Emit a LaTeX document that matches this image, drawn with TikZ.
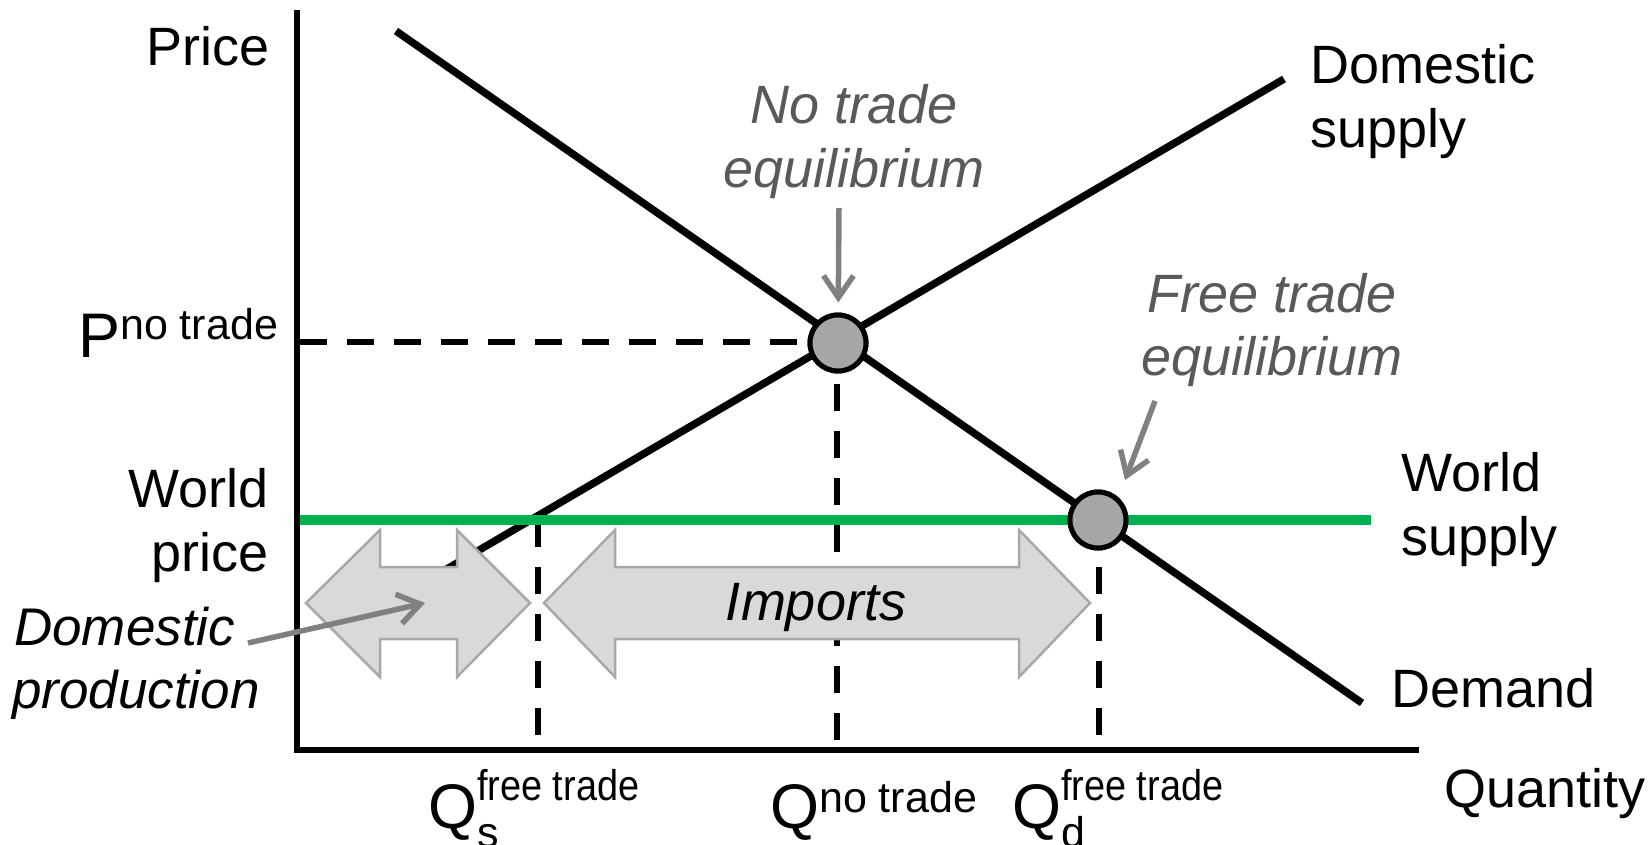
\documentclass[tikz,border=0pt]{standalone}
\usepackage{fontspec}
\setmainfont{Liberation Sans}
\usetikzlibrary{arrows.meta}
\definecolor{worldgreen}{HTML}{00B050}
\definecolor{eqfill}{HTML}{A6A6A6}
\definecolor{bandfill}{HTML}{D9D9D9}
\definecolor{bandedge}{HTML}{A8A8A8}
\definecolor{pointergray}{HTML}{808080}
\definecolor{notegray}{HTML}{595959}
\newcommand\fsz[1]{\fontsize{#1}{#1}\selectfont}
\newcommand\narrowsup[1]{\scalebox{0.88}[1]{\fsz{43}#1}}
\begin{document}
\begin{tikzpicture}[x=1pt,y=-1pt,
  axisline/.style={line width=6pt, line join=miter},
  curveline/.style={line width=7.5pt},
  guide/.style={line width=5.5pt, dash pattern=on 27pt off 20pt},
  worldline/.style={draw=worldgreen, line width=10pt},
  eqdot/.style={circle, draw=black, fill=eqfill, line width=5pt, minimum size=56pt, inner sep=0pt},
  band/.style={fill=bandfill, draw=bandedge, line width=2.5pt, line join=miter},
  pointer/.style={draw=pointergray, line width=5.5pt, -{Straight Barb[length=22pt,width=30pt]}},
  lbl/.style={inner sep=0pt, font=\fsz{54}},
  note/.style={inner sep=0pt, text=notegray, font={\fsz{54}\itshape}},
  ]
\useasboundingbox (0,0) rectangle (1649,844);

% axes
\coordinate (origin) at (297,750);
\coordinate (ytop) at (297,10);
\coordinate (xend) at (1419,750);
\draw[axisline] (ytop) -- (origin) -- (xend);

% equilibrium points
\node[eqdot] (nteq) at (838,343) {};
\node[eqdot] (fteq) at (1098,520) {};

% guide lines
\coordinate (pnt) at (300,342);
\draw[guide] (pnt) -- (pnt -| nteq.west);
\coordinate (qntfoot) at (837,740);
\draw[guide] (qntfoot) -- (qntfoot |- nteq.south);
\coordinate (qsfoot) at (538,735);
\coordinate (qstop) at (538,520);
\draw[guide] (qsfoot) -- (qstop);
\coordinate (qdfoot) at (1099,735);
\coordinate (qdtop) at (1099,566);
\draw[guide] (qdfoot) -- (qdtop);

% demand and domestic supply
\coordinate (dtop) at (396,31);
\coordinate (dbot) at (1362,703);
\coordinate (sbot) at (440,573);
\coordinate (stop) at (1284,79);
\draw[curveline] (dtop) -- (dbot);
\draw[curveline] (sbot) -- (stop);

% world supply
\coordinate (wleft) at (300,520);
\coordinate (wright) at (1371,520);
\draw[worldline] (wleft) -- (wright);

% redraw the dots on top of the lines
\node[eqdot] at (nteq) {};
\node[eqdot] at (fteq) {};

% quantity bands
\draw[band] (306,603) -- (380,530) -- (380,567) -- (457,567) -- (457,530) -- (530,603)
  -- (457,677) -- (457,639) -- (380,639) -- (380,677) -- cycle;
\draw[band] (544,603) -- (615,530) -- (615,567) -- (1019,567) -- (1019,530) -- (1090,603)
  -- (1019,677) -- (1019,639) -- (615,639) -- (615,677) -- cycle;
\node[inner sep=0pt, font={\fsz{54}\itshape}, anchor=base] (imports) at (816,620) {Imports};

% axis labels
\node[lbl, anchor=base east] (price) at (270,65) {Price};
\node[lbl, anchor=base west] (quantity) at (1444,807) {Quantity};
\node[lbl, anchor=base west] (pnotrade) at (78,357) {\fsz{63}P\raisebox{18pt}{\fsz{43}no trade}};
\node[lbl, anchor=base east] (wp1) at (269,507) {World};
\node[lbl, anchor=base east] (wp2) at (269,571) {price};
\node[lbl, anchor=base west] (qs) at (428,828)
  {\fsz{63}Q\rlap{\raisebox{28pt}{\narrowsup{free trade}}}\raisebox{-19pt}{\fsz{43}s}};
\node[lbl, anchor=base west] (qnt) at (770,828) {\fsz{63}Q\raisebox{16pt}{\fsz{43}no trade}};
\node[lbl, anchor=base west] (qd) at (1012,828)
  {\fsz{63}Q\rlap{\raisebox{28pt}{\narrowsup{free trade}}}\raisebox{-19pt}{\fsz{43}d}};

% curve labels
\node[lbl, anchor=base west] (ds1) at (1310,83) {Domestic};
\node[lbl, anchor=base west] (ds2) at (1310,147) {supply};
\node[lbl, anchor=base west] (ws1) at (1401,491) {World};
\node[lbl, anchor=base west] (ws2) at (1401,555) {supply};
\node[lbl, anchor=base west] (dem) at (1391,707) {Demand};

% annotations
\node[note, anchor=base] (nt1) at (854,123) {No trade};
\node[note, anchor=base] (nt2) at (854,187) {equilibrium};
\node[note, anchor=base] (ft1) at (1272,312) {Free trade};
\node[note, anchor=base] (ft2) at (1272,375) {equilibrium};
\node[inner sep=0pt, font={\fsz{53}\itshape}, anchor=base west] (dp1) at (14,645) {Domestic};
\node[inner sep=0pt, font={\fsz{53}\itshape}, anchor=base west] (dp2) at (12,708) {production};

\coordinate (ntfrom) at (839,208);
\draw[pointer, shorten >=10pt] (ntfrom) -- (nteq);
\coordinate (ftfrom) at (1155,401);
\coordinate (fttip) at (1125,480);
\draw[pointer] (ftfrom) -- (fttip);
\coordinate (dpfrom) at (248,643);
\coordinate (dptip) at (425,603);
\draw[pointer] (dpfrom) -- (dptip);
\end{tikzpicture}
\end{document}
